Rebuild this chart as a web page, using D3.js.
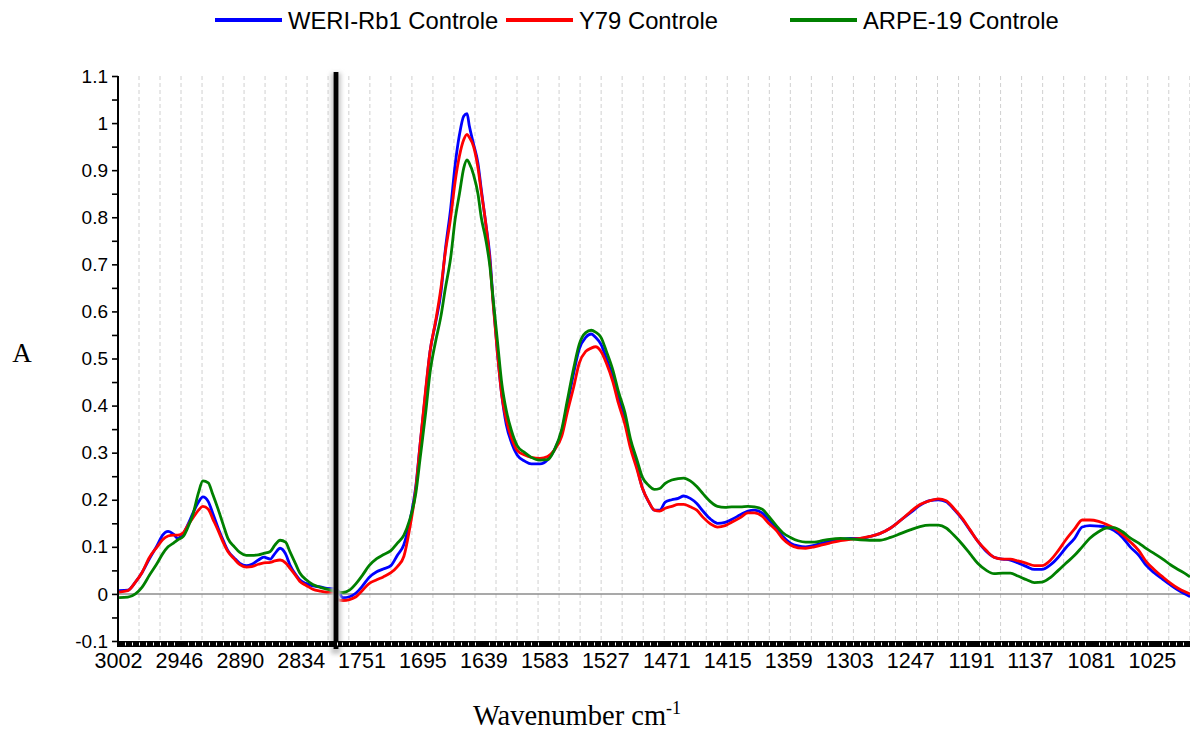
<!DOCTYPE html>
<html>
<head>
<meta charset="utf-8">
<script src="https://cdn.jsdelivr.net/npm/d3@7"></script>
<style>
  html, body { margin: 0; padding: 0; background: #fff; }
  svg { display: block; }
</style>
</head>
<body>
<svg id="chart" width="1190" height="733"></svg>
<script>
// FTIR absorbance spectra (C-H stretch region, then fingerprint region after the axis break)
const wavenumbers = [
  3001, 2993, 2986, 2980, 2973, 2966, 2961, 2956, 2951, 2947, 2942, 2938, 2933, 2928, 2924, 2919,
  2915, 2910, 2905, 2901, 2895, 2890, 2884, 2879, 2873, 2868, 2862, 2858, 2853, 2848, 2844, 2839,
  2835, 2829, 2823, 2816, 2810, 2803,
  1773, 1768, 1762, 1756, 1750, 1744, 1737, 1731, 1724, 1718, 1712, 1707, 1701, 1697, 1692, 1688,
  1683, 1678, 1674, 1669, 1665, 1661, 1657, 1654, 1652, 1648, 1644, 1641, 1637, 1633, 1630, 1626,
  1622, 1618, 1613, 1608, 1601, 1595, 1587, 1580, 1574, 1567, 1562, 1556, 1551, 1545, 1540, 1536,
  1531, 1526, 1520, 1515, 1509, 1504, 1498, 1493, 1487, 1482, 1477, 1472, 1466, 1460, 1455, 1449,
  1443, 1437, 1430, 1424, 1417, 1411, 1403, 1396, 1390, 1383, 1377, 1370, 1364, 1357, 1350, 1343,
  1335, 1328, 1321, 1311, 1302, 1293, 1284, 1275, 1265, 1256, 1247, 1238, 1229, 1221, 1214, 1207,
  1199, 1192, 1185, 1177, 1170, 1162, 1155, 1148, 1140, 1133, 1126, 1118, 1111, 1104, 1096, 1089,
  1082, 1074, 1067, 1060, 1052, 1045, 1037, 1030, 1023, 1015, 1008, 1001, 993, 990
];

const weriRb1 = [
  0.007, 0.008, 0.025, 0.045, 0.075, 0.103, 0.125, 0.133, 0.127, 0.118, 0.128, 0.146, 0.172, 0.195, 0.206, 0.196,
  0.172, 0.140, 0.112, 0.092, 0.076, 0.065, 0.060, 0.063, 0.072, 0.078, 0.074, 0.085, 0.097, 0.085, 0.062, 0.042,
  0.030, 0.022, 0.017, 0.015, 0.012, 0.011,
  0.008, -0.008, -0.006, 0.002, 0.017, 0.035, 0.047, 0.053, 0.060, 0.082, 0.105, 0.150, 0.230, 0.320, 0.430, 0.515,
  0.575, 0.640, 0.730, 0.820, 0.910, 0.975, 1.015, 1.020, 0.995, 0.955, 0.915, 0.860, 0.790, 0.716, 0.620, 0.510,
  0.420, 0.360, 0.320, 0.295, 0.282, 0.276, 0.276, 0.285, 0.305, 0.345, 0.400, 0.470, 0.520, 0.545, 0.552, 0.545,
  0.530, 0.500, 0.460, 0.420, 0.375, 0.320, 0.270, 0.225, 0.195, 0.178, 0.178, 0.195, 0.200, 0.203, 0.208, 0.203,
  0.192, 0.175, 0.158, 0.150, 0.152, 0.158, 0.168, 0.176, 0.178, 0.172, 0.158, 0.140, 0.122, 0.108, 0.102, 0.100,
  0.103, 0.108, 0.112, 0.116, 0.118, 0.118, 0.122, 0.128, 0.140, 0.156, 0.172, 0.188, 0.198, 0.200, 0.196, 0.180,
  0.158, 0.135, 0.112, 0.090, 0.078, 0.074, 0.072, 0.066, 0.058, 0.052, 0.052, 0.062, 0.078, 0.098, 0.118, 0.142,
  0.145, 0.144, 0.142, 0.135, 0.120, 0.100, 0.082, 0.060, 0.045, 0.031, 0.019, 0.008, -0.002, -0.006
];

const y79 = [
  0.004, 0.007, 0.025, 0.045, 0.078, 0.100, 0.115, 0.123, 0.125, 0.125, 0.130, 0.145, 0.162, 0.178, 0.186, 0.180,
  0.160, 0.135, 0.108, 0.090, 0.074, 0.062, 0.057, 0.058, 0.063, 0.066, 0.067, 0.070, 0.072, 0.066, 0.055, 0.040,
  0.027, 0.018, 0.010, 0.006, 0.004, 0.004,
  -0.012, -0.014, -0.012, -0.006, 0.008, 0.022, 0.030, 0.036, 0.045, 0.058, 0.080, 0.135, 0.225, 0.320, 0.435, 0.515,
  0.578, 0.650, 0.725, 0.800, 0.875, 0.930, 0.965, 0.976, 0.970, 0.950, 0.905, 0.855, 0.790, 0.705, 0.615, 0.510,
  0.420, 0.370, 0.330, 0.305, 0.295, 0.290, 0.288, 0.292, 0.305, 0.335, 0.385, 0.440, 0.490, 0.515, 0.522, 0.525,
  0.515, 0.490, 0.450, 0.405, 0.360, 0.310, 0.265, 0.225, 0.195, 0.178, 0.176, 0.182, 0.186, 0.190, 0.190, 0.185,
  0.178, 0.162, 0.148, 0.142, 0.145, 0.152, 0.162, 0.172, 0.172, 0.165, 0.150, 0.135, 0.117, 0.104, 0.098, 0.097,
  0.100, 0.104, 0.108, 0.113, 0.116, 0.118, 0.122, 0.128, 0.140, 0.156, 0.174, 0.190, 0.198, 0.202, 0.198, 0.182,
  0.160, 0.136, 0.112, 0.092, 0.078, 0.074, 0.074, 0.070, 0.065, 0.060, 0.060, 0.072, 0.092, 0.115, 0.138, 0.157,
  0.157, 0.154, 0.148, 0.140, 0.126, 0.111, 0.092, 0.068, 0.052, 0.036, 0.023, 0.012, 0.003, 0.000
];

const arpe19 = [
  -0.008, -0.007, 0.000, 0.014, 0.040, 0.065, 0.085, 0.100, 0.108, 0.115, 0.122, 0.140, 0.170, 0.215, 0.240, 0.236,
  0.212, 0.180, 0.145, 0.118, 0.100, 0.088, 0.082, 0.082, 0.083, 0.086, 0.090, 0.103, 0.114, 0.110, 0.090, 0.065,
  0.045, 0.030, 0.020, 0.014, 0.010, 0.006,
  0.004, 0.003, 0.008, 0.022, 0.040, 0.060, 0.075, 0.083, 0.092, 0.108, 0.125, 0.155, 0.215, 0.290, 0.385, 0.470,
  0.535, 0.590, 0.648, 0.715, 0.795, 0.850, 0.905, 0.922, 0.915, 0.890, 0.850, 0.800, 0.755, 0.695, 0.625, 0.535,
  0.445, 0.390, 0.345, 0.315, 0.300, 0.290, 0.284, 0.285, 0.305, 0.350, 0.410, 0.480, 0.530, 0.555, 0.560, 0.556,
  0.545, 0.515, 0.475, 0.430, 0.385, 0.330, 0.285, 0.248, 0.230, 0.222, 0.224, 0.235, 0.242, 0.245, 0.246, 0.240,
  0.228, 0.212, 0.195, 0.186, 0.184, 0.185, 0.185, 0.186, 0.185, 0.180, 0.165, 0.145, 0.130, 0.120, 0.113, 0.110,
  0.110, 0.113, 0.116, 0.118, 0.117, 0.115, 0.114, 0.114, 0.120, 0.128, 0.136, 0.143, 0.146, 0.146, 0.140, 0.125,
  0.105, 0.085, 0.065, 0.050, 0.043, 0.044, 0.044, 0.038, 0.030, 0.024, 0.025, 0.035, 0.050, 0.065, 0.082, 0.100,
  0.118, 0.132, 0.140, 0.141, 0.132, 0.119, 0.108, 0.096, 0.086, 0.074, 0.062, 0.052, 0.041, 0.036
];

const seriesNames = ["WERI-Rb1 Controle", "Y79 Controle", "ARPE-19 Controle"];
const seriesColors = ["#0000ff", "#ff0000", "#008000"];

const xTickLabels = [3002, 2946, 2890, 2834, 1751, 1695, 1639, 1583, 1527, 1471, 1415, 1359, 1303, 1247, 1191, 1137, 1081, 1025];
const yTickValues = [-0.1, 0, 0.1, 0.2, 0.3, 0.4, 0.5, 0.6, 0.7, 0.8, 0.9, 1, 1.1];

// Spectrometer sampling step (cm-1 per point) and the two ends of the axis break
const pointStep = 1.931;
const breakHigh = 2803, breakLow = 1773;

const svg = d3.select("#chart");
const plot = { left: 118, right: 1190, top: 76, bottom: 641 };

// Broken wavenumber axis: a piecewise scale that jumps over the 2803 -> 1773 gap
const x = d3.scaleLinear()
  .domain([3002, breakHigh, breakLow, 990])
  .range([plot.left, 334.5, 337.5, plot.right]);
const y = d3.scaleLinear().domain([-0.1, 1.1]).range([plot.bottom, plot.top]);

// point index -> wavenumber (index runs continuously across the break)
const idxToWn = i => i <= 103.3 ? 3002 - i * pointStep : 1751 + (116 - i) * pointStep;

// vertical dashed grid, one line every 10 points
const gridIdx = d3.range(10, 511, 10);
svg.append("g").selectAll("line").data(gridIdx).join("line")
  .attr("x1", d => x(idxToWn(d))).attr("x2", d => x(idxToWn(d)))
  .attr("y1", plot.top).attr("y2", plot.bottom)
  .attr("stroke", "#d0d0d0").attr("stroke-width", 1)
  .attr("stroke-dasharray", "4,3");

// zero baseline
svg.append("line")
  .attr("x1", plot.left).attr("x2", plot.right)
  .attr("y1", y(0)).attr("y2", y(0))
  .attr("stroke", "#8c8c8c").attr("stroke-width", 1.5);

// spectra
const line = d3.line()
  .x((d, i) => x(wavenumbers[i]))
  .y(d => y(d))
  .curve(d3.curveMonotoneX);

[weriRb1, y79, arpe19].forEach((vals, k) => {
  svg.append("path")
    .datum(vals)
    .attr("fill", "none")
    .attr("stroke", seriesColors[k])
    .attr("stroke-width", 2.8)
    .attr("stroke-linejoin", "round")
    .attr("d", line);
});

// break marker: soft grey shadow with a heavy black bar on top
const defs = svg.append("defs");
defs.append("filter").attr("id", "soft").attr("x", "-2").attr("width", "5")
  .append("feGaussianBlur").attr("stdDeviation", 2.2);
const xBreak = (x(breakHigh) + x(breakLow)) / 2;
svg.append("rect")
  .attr("x", xBreak - 5).attr("y", plot.top - 3)
  .attr("width", 10).attr("height", plot.bottom - plot.top + 16)
  .attr("fill", "#c8c8c8").attr("filter", "url(#soft)");
svg.append("rect")
  .attr("x", xBreak - 2.4).attr("y", plot.top - 4)
  .attr("width", 4.8).attr("height", plot.bottom - plot.top + 12)
  .attr("fill", "#000");

// x axis: heavy black band with fine white notches
svg.append("rect")
  .attr("x", plot.left - 1).attr("y", plot.bottom)
  .attr("width", plot.right - plot.left + 1).attr("height", 6)
  .attr("fill", "#000");
const notchIdx = d3.range(0, 511, 10 / 3).filter(i => Math.abs((i % 29)) > 1.2 && Math.abs((i % 29) - 29) > 1.2);
svg.append("g").selectAll("line").data(notchIdx).join("line")
  .attr("x1", d => Math.round(x(idxToWn(d))) + 0.5).attr("x2", d => Math.round(x(idxToWn(d))) + 0.5)
  .attr("y1", plot.bottom + 1.5).attr("y2", plot.bottom + 4.5)
  .attr("stroke", "#fff").attr("stroke-width", 1);

const xAxis = svg.append("g")
  .attr("transform", `translate(0,${plot.bottom + 5})`)
  .call(d3.axisBottom(x).tickValues(xTickLabels).tickSize(0).tickPadding(7).tickFormat(d3.format("d")));
xAxis.select(".domain").remove();
xAxis.selectAll("text")
  .attr("font-family", "Liberation Sans, Arial, sans-serif")
  .attr("font-size", 21.5).attr("fill", "#000");

// y axis with minor ticks every 0.05
const yAxis = svg.append("g")
  .attr("transform", `translate(${plot.left},0)`)
  .call(d3.axisLeft(y)
    .tickValues(d3.range(-0.1, 1.1001, 0.05).map(v => +v.toFixed(2)))
    .tickSize(6).tickPadding(4)
    .tickFormat(v => Math.round(v * 20) % 2 !== 0 ? "" : String(+v.toFixed(1))));
yAxis.select(".domain").attr("stroke-width", 2).attr("d", `M0,${plot.top}V${plot.bottom + 6}`);
yAxis.selectAll(".tick line").attr("stroke-width", 1.6);
yAxis.selectAll("text")
  .attr("font-family", "Liberation Sans, Arial, sans-serif")
  .attr("font-size", 19).attr("fill", "#000");

// axis titles
const xTitle = svg.append("text")
  .attr("x", 577).attr("y", 725)
  .attr("text-anchor", "middle")
  .attr("font-family", "Liberation Serif, Times New Roman, serif")
  .attr("font-size", 28.5).attr("fill", "#000");
xTitle.append("tspan").text("Wavenumber cm");
xTitle.append("tspan").attr("dy", -11).attr("font-size", 18).text("-1");

svg.append("text")
  .attr("x", 22).attr("y", 362)
  .attr("text-anchor", "middle")
  .attr("font-family", "Liberation Serif, Times New Roman, serif")
  .attr("font-size", 27).attr("fill", "#000")
  .text("A");

// legend
const legendX = [215, 506, 790];
const legend = svg.append("g").selectAll("g").data(seriesNames).join("g")
  .attr("transform", (d, i) => `translate(${legendX[i]},20)`);
legend.append("line")
  .attr("x1", 0).attr("x2", 67).attr("y1", 0).attr("y2", 0)
  .attr("stroke", (d, i) => seriesColors[i]).attr("stroke-width", 4);
legend.append("text")
  .attr("x", 73).attr("y", 8.5)
  .attr("font-family", "Liberation Sans, Arial, sans-serif")
  .attr("font-size", 23.8).attr("fill", "#000")
  .text(d => d);
</script>
</body>
</html>
